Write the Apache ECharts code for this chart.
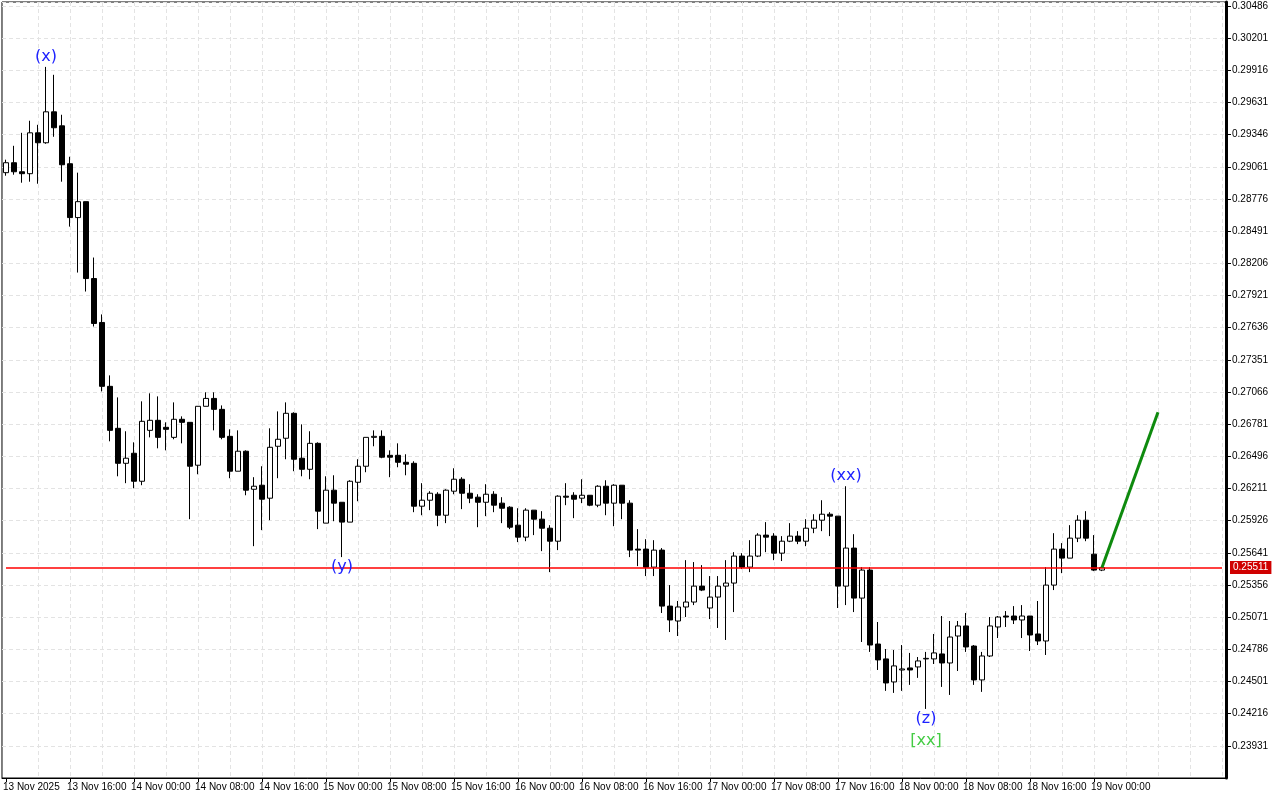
<!DOCTYPE html>
<html><head><meta charset="utf-8">
<script src="https://cdn.jsdelivr.net/npm/echarts@6/dist/echarts.min.js"></script>
<style>html,body{margin:0;padding:0;background:#fff}#c{width:1280px;height:800px}</style>
</head><body><div id="c"></div>
<script>
// [open, close, low, high]
const candles = [
[0.29009,0.29097,0.28982,0.29124],[0.29097,0.29017,0.28991,0.29247],[0.29017,0.29000,0.28920,0.29362],[0.29000,0.29362,0.28929,0.29469],
[0.29362,0.29274,0.28911,0.29433],[0.29274,0.29548,0.29265,0.29946],[0.29548,0.29407,0.29327,0.29876],[0.29424,0.29079,0.28929,0.29522],
[0.29088,0.28611,0.28531,0.29150],[0.28611,0.28752,0.28124,0.29009],[0.28752,0.28071,0.27956,0.28752],[0.28071,0.27673,0.27646,0.28257],
[0.27682,0.27116,0.27071,0.27753],[0.27116,0.26726,0.26629,0.27213],[0.26744,0.26434,0.26319,0.27018],[0.26434,0.26479,0.26258,0.26718],
[0.26523,0.26275,0.26213,0.26620],[0.26275,0.26806,0.26240,0.26983],[0.26726,0.26815,0.26664,0.27054],[0.26815,0.26664,0.26567,0.27027],
[0.26753,0.26735,0.26549,0.26797],[0.26664,0.26824,0.26647,0.26974],[0.26824,0.26797,0.26611,0.26850],[0.26797,0.26408,0.25939,0.26797],
[0.26417,0.26939,0.26337,0.26939],[0.26939,0.27009,0.26939,0.27063],[0.27009,0.26912,0.26726,0.27063],[0.26912,0.26664,0.26647,0.26947],
[0.26673,0.26364,0.26302,0.26735],[0.26364,0.26541,0.26364,0.26726],[0.26541,0.26196,0.26151,0.26549],[0.26204,0.26231,0.25700,0.26311],
[0.26240,0.26116,0.25842,0.26408],[0.26125,0.26576,0.25930,0.26744],[0.26585,0.26647,0.26302,0.26894],[0.26656,0.26877,0.26470,0.26974],
[0.26877,0.26470,0.26364,0.26886],[0.26479,0.26381,0.26319,0.26779],[0.26381,0.26611,0.26293,0.26718],[0.26611,0.26010,0.25851,0.26620],
[0.25904,0.26196,0.25904,0.26319],[0.26196,0.26081,0.25921,0.26328],[0.26089,0.25913,0.25603,0.26089],[0.25913,0.26275,0.25913,0.26284],
[0.26266,0.26408,0.26098,0.26470],[0.26408,0.26664,0.26355,0.26664],[0.26664,0.26673,0.26585,0.26726],[0.26673,0.26488,0.26479,0.26726],
[0.26505,0.26488,0.26311,0.26549],[0.26505,0.26443,0.26399,0.26611],[0.26443,0.26426,0.26328,0.26514],[0.26434,0.26054,0.26001,0.26452],
[0.26054,0.26107,0.25974,0.26258],[0.26107,0.26169,0.26019,0.26187],[0.26160,0.25974,0.25877,0.26178],[0.25974,0.26196,0.25904,0.26204],
[0.26187,0.26293,0.26160,0.26390],[0.26293,0.26169,0.26028,0.26311],[0.26169,0.26125,0.26081,0.26249],[0.26134,0.26089,0.25868,0.26160],
[0.26089,0.26160,0.25966,0.26249],[0.26160,0.26063,0.26001,0.26187],[0.26081,0.26036,0.25904,0.26134],[0.26045,0.25868,0.25851,0.26054],
[0.25886,0.25780,0.25736,0.26036],[0.25780,0.26019,0.25744,0.26036],[0.26019,0.25939,0.25798,0.26019],[0.25939,0.25859,0.25656,0.26010],
[0.25859,0.25744,0.25470,0.25886],[0.25744,0.26143,0.25665,0.26151],[0.26143,0.26134,0.26063,0.26258],[0.26151,0.26116,0.25948,0.26178],
[0.26125,0.26151,0.26081,0.26293],[0.26151,0.26063,0.26054,0.26151],[0.26063,0.26231,0.26045,0.26240],[0.26231,0.26081,0.25974,0.26284],
[0.26081,0.26240,0.25877,0.26249],[0.26240,0.26081,0.25939,0.26240],[0.26081,0.25665,0.25603,0.26107],[0.25674,0.25665,0.25523,0.25851],
[0.25674,0.25514,0.25435,0.25762],[0.25514,0.25665,0.25435,0.25753],[0.25665,0.25169,0.25108,0.25683],[0.25169,0.25046,0.24939,0.25355],
[0.25037,0.25161,0.24904,0.25214],[0.25161,0.25205,0.25072,0.25576],[0.25205,0.25346,0.25178,0.25559],[0.25346,0.25311,0.25302,0.25532],
[0.25152,0.25249,0.25054,0.25435],[0.25249,0.25346,0.24975,0.25435],[0.25346,0.25373,0.24869,0.25576],[0.25373,0.25612,0.25116,0.25647],
[0.25612,0.25514,0.25497,0.25638],[0.25514,0.25612,0.25470,0.25753],[0.25612,0.25798,0.25603,0.25815],[0.25798,0.25780,0.25647,0.25913],
[0.25789,0.25638,0.25576,0.25815],[0.25638,0.25744,0.25568,0.25789],[0.25744,0.25789,0.25736,0.25904],[0.25789,0.25744,0.25718,0.25833],
[0.25744,0.25859,0.25700,0.25939],[0.25859,0.25930,0.25815,0.25983],[0.25930,0.25983,0.25833,0.26107],[0.25983,0.25966,0.25789,0.26001],
[0.25966,0.25346,0.25152,0.25966],[0.25346,0.25683,0.25178,0.26231],[0.25683,0.25240,0.25116,0.25806],[0.25240,0.25488,0.24851,0.25514],
[0.25488,0.24824,0.24763,0.25514],[0.24833,0.24692,0.24603,0.25028],[0.24701,0.24488,0.24418,0.24789],[0.24497,0.24639,0.24400,0.24780],
[0.24603,0.24612,0.24418,0.24824],[0.24621,0.24603,0.24471,0.24754],[0.24630,0.24683,0.24533,0.24718],[0.24701,0.24706,0.24258,0.24763],
[0.24701,0.24754,0.24656,0.24922],[0.24745,0.24665,0.24453,0.25081],[0.24665,0.24895,0.24382,0.25037],[0.24904,0.24993,0.24594,0.25037],
[0.24993,0.24807,0.24763,0.25108],[0.24815,0.24515,0.24471,0.24824],[0.24515,0.24727,0.24409,0.24763],[0.24727,0.24993,0.24718,0.25072],
[0.24984,0.25072,0.24886,0.25081],[0.25081,0.25072,0.24984,0.25125],[0.25081,0.25046,0.25010,0.25169],[0.25046,0.25081,0.24886,0.25178],
[0.25081,0.24913,0.24771,0.25081],[0.24922,0.24860,0.24824,0.25214],[0.24860,0.25355,0.24736,0.25514],[0.25355,0.25674,0.25311,0.25815],
[0.25674,0.25594,0.25461,0.25727],[0.25594,0.25771,0.25594,0.25886],[0.25771,0.25930,0.25736,0.25974],[0.25930,0.25771,0.25744,0.26010],
[0.25629,0.25488,0.25479,0.25798],[0.25488,0.25511,0.25479,0.25520]
];
const currentPrice = 0.25511;
const projection = [[137, 0.25511], [144, 0.26886]];
const waveLabels = [
  {idx:5, value:0.29946, text:'(x)', pos:'top', color:'#1e22ff'},
  {idx:42, value:0.25603, text:'(y)', pos:'bottom', color:'#1e22ff'},
  {idx:105, value:0.26231, text:'(xx)', pos:'top', color:'#1e22ff'},
  {idx:115, value:0.24258, text:'(z)', pos:'bottom', color:'#1e22ff'},
  {idx:115, value:0.24258, text:'[xx]', pos:'bottom2', color:'#44cc44'}
];
const totalSlots = 153;
const lastLabelIdx = 136;
const startTime = Date.UTC(2025, 10, 13, 8, 0);
const months = ['Jan','Feb','Mar','Apr','May','Jun','Jul','Aug','Sep','Oct','Nov','Dec'];
const categories = [];
for (let i = 0; i < totalSlots; i++) {
  const d = new Date(startTime + i * 3600000);
  const hh = String(d.getUTCHours()).padStart(2,'0');
  categories.push(i === 0 ? d.getUTCDate() + ' ' + months[d.getUTCMonth()] + ' ' + d.getUTCFullYear()
    : d.getUTCDate() + ' ' + months[d.getUTCMonth()] + ' ' + hh + ':00');
}
const lineData = categories.map(() => null);
projection.forEach(p => { lineData[p[0]] = p[1]; });

const chart = echarts.init(document.getElementById('c'));
const font = '"Liberation Sans", Arial, sans-serif';
const showLab = i => i % 8 === 0 && i <= lastLabelIdx;
chart.setOption({
  animation: false,
  backgroundColor: '#fff',
  tooltip: {show: false},
  axisPointer: {show: false},
  grid: {left: 0, right: 54, top: 2, bottom: 22, show: true, borderColor: '#000', borderWidth: 1},
  xAxis: {
    type: 'category', data: categories, boundaryGap: true,
    axisPointer: {show: false},
    axisLine: {lineStyle: {color: '#000'}},
    axisTick: {show: true, alignWithLabel: true, interval: showLab, length: 4, lineStyle: {color: '#000'}},
    axisLabel: {interval: showLab, align: 'left', margin: 4, fontSize: 10, fontFamily: font, color: '#000',
      padding: [0,0,0,-3], showMaxLabel: true, hideOverlap: false},
    splitLine: {show: true, alignWithLabel: true, interval: i => i % 4 === 0 && i > 0, lineStyle: {color: '#e3e3e3', type: [4,3]}}
  },
  yAxis: {
    type: 'value', position: 'right', min: 0.23646, max: 0.30521, interval: 0.00285,
    axisPointer: {show: false},
    axisLine: {show: true, lineStyle: {color: '#000', width: 3}},
    axisTick: {show: true, length: 5, lineStyle: {color: '#000'}},
    axisLabel: {fontSize: 10, fontFamily: font, color: '#000', margin: 6, showMinLabel: false, showMaxLabel: false,
      hideOverlap: false, formatter: v => v.toFixed(5)},
    splitLine: {show: true, lineStyle: {color: '#e3e3e3', type: [4,3]}}
  },
  series: [
    {
      type: 'candlestick', data: candles, barWidth: 5, z: 3,
      itemStyle: {color: '#fff', color0: '#000', borderColor: '#000', borderColor0: '#000', borderWidth: 1},
      markPoint: {
        symbol: 'circle', symbolSize: 0,
        data: waveLabels.map(w => ({
          coord: [w.idx, w.value], value: w.text,
          label: {show: true, formatter: w.text, color: w.color, fontSize: 16, fontFamily: '"DejaVu Sans", sans-serif',
            position: w.pos === 'bottom2' ? 'bottom' : w.pos,
            distance: w.pos === 'bottom2' ? 24 : 2}
        }))
      }
    },
    {
      type: 'line', data: lineData, connectNulls: true, symbol: 'none', color: '#0e8a0e',
      lineStyle: {color: '#0e8a0e', width: 3}, z: 5,
      markLine: {
        symbol: ['none','none'], silent: true, animation: false, precision: 5,
        emphasis: {disabled: true},
        data: [[
          {coord: [0, currentPrice]},
          {coord: [totalSlots - 1, currentPrice]}
        ]],
        lineStyle: {color: '#ff0000', width: 1.6, type: 'solid', opacity: 1},
        label: {show: true, position: 'end', formatter: currentPrice.toFixed(5), color: '#fff',
          backgroundColor: '#d00000', fontSize: 10, fontFamily: font, padding: [2,3,1,3], distance: 8}
      }
    }
  ]
});
</script></body></html>
